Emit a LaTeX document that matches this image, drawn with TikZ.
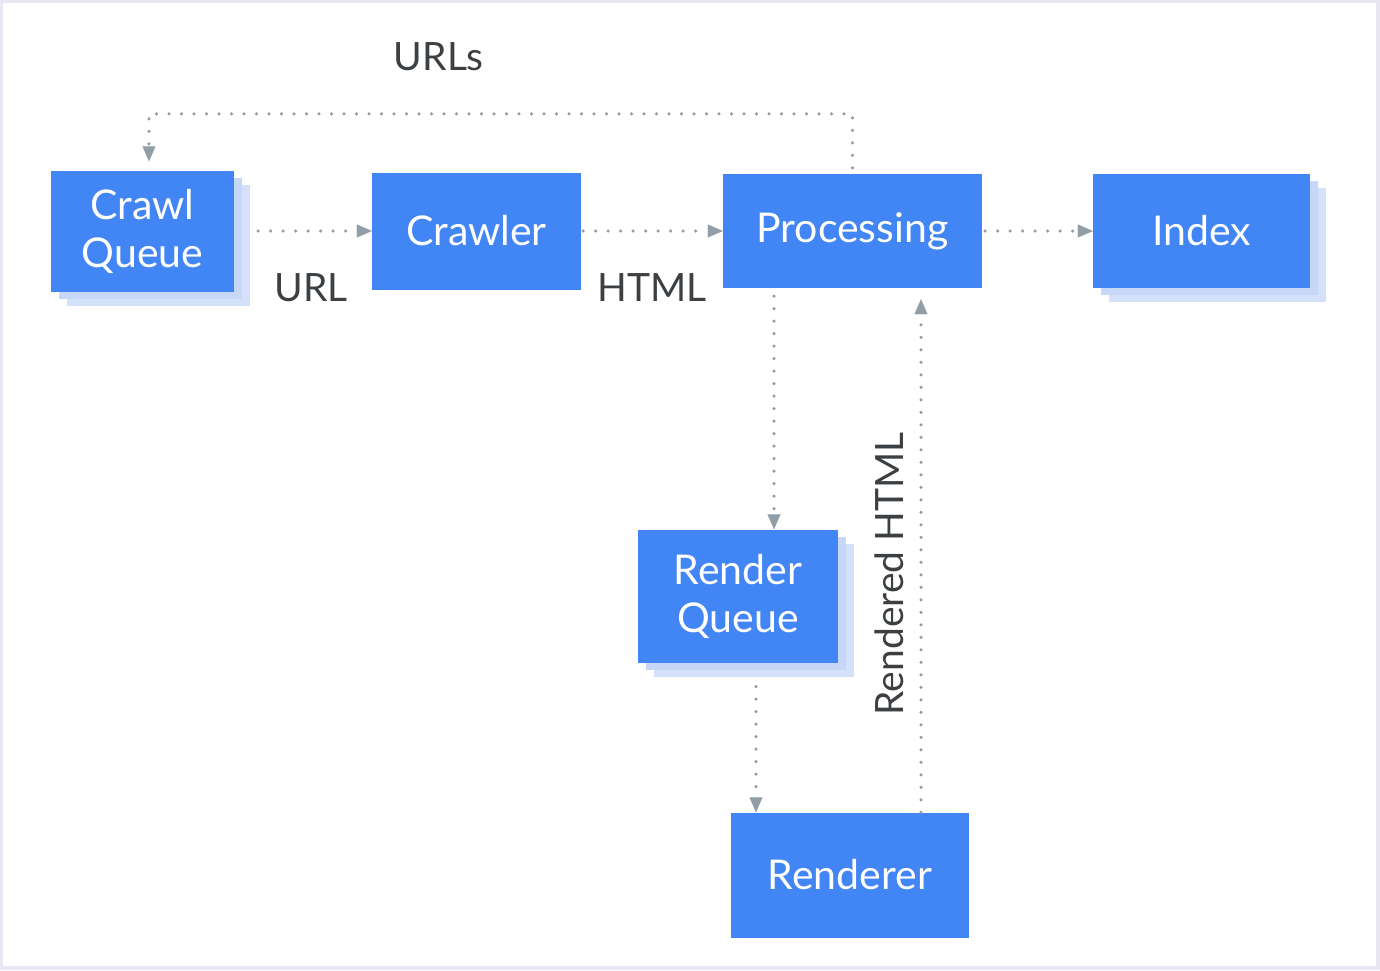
\documentclass[tikz,border=0pt]{standalone}
\usepackage{fontspec}
\setmainfont{Lato}
\usetikzlibrary{arrows.meta,positioning,shadows}
\definecolor{boxblue}{HTML}{4285F4}
\definecolor{layernear}{HTML}{C6D7F8}
\definecolor{layerfar}{HTML}{D4E1FA}
\definecolor{dotgray}{HTML}{919EA6}
\definecolor{labelgray}{HTML}{3C4043}
\definecolor{framelav}{HTML}{E7E6F2}

\begin{document}
\begin{tikzpicture}[>={Triangle[width=13pt,length=15pt,line width=0.01pt]},on grid,
    box/.style={rectangle,fill=boxblue,text=white,inner sep=0pt,align=center,
      font=\fontsize{41}{48}\selectfont},
    queue/.style={box,general shadow={shadow xshift=16pt,shadow yshift=-14pt,fill=layerfar},
      general shadow={shadow xshift=8pt,shadow yshift=-7pt,fill=layernear}},
    flow/.style={->,draw=dotgray,line width=3.5pt,line cap=round,dash pattern=on 0pt off 12.5pt},
    tag/.style={text=labelgray,inner sep=0pt,font=\fontsize{39}{48}\selectfont}]
    \useasboundingbox (0,0) rectangle (1380pt,-970pt);
    \fill[framelav] (0,0) rectangle (1380pt,-970pt);
    \fill[white] (3pt,-3pt) rectangle (1376pt,-966pt);
    \node[queue,minimum width=183pt,minimum height=121pt] (cq) at (142.5pt,-231pt) {Crawl\\Queue};
    \node[box,minimum width=209pt,minimum height=117pt] (crawler) [right=334pt of cq] {Crawler};
    \node[box,minimum width=259pt,minimum height=114pt] (proc) [right=376pt of crawler] {Processing};
    \node[queue,minimum width=217pt,minimum height=114pt] (idx) [right=349pt of proc] {Index};
    \node[queue,minimum width=200pt,minimum height=133pt] (rq) [below left=365pt and 114.5pt of proc] {Render\\Queue};
    \node[box,minimum width=238pt,minimum height=125pt] (rend) [below left=644pt and 2.5pt of proc] {Renderer};
    \draw[flow,shorten <=24pt] (cq.east) -- node[tag,below=41pt,pos=.56] {URL} (crawler.west);
    \draw[flow,shorten <=2pt] (crawler.east) -- node[tag,below=41pt] {HTML} (proc.west);
    \draw[flow,shorten <=3pt] (proc.east) -- (idx.west);
    \draw[flow,shorten <=8pt] ([xshift=36pt]rq.north |- proc.south) -- ([xshift=36pt]rq.north);
    \draw[flow,shorten <=24pt] ([xshift=18pt]rq.south) -- ([xshift=18pt]rq.south |- rend.north);
    \draw[flow,shorten >=11pt] ([xshift=71pt]rend.north) -- node[tag,sloped,above,inner ysep=15pt,pos=.455] {Rendered HTML} ([xshift=71pt]rend.north |- proc.south);
    \draw[flow,shorten <=6pt,shorten >=9pt] (proc.north) -- ++(0,60pt) -| node[tag,above=41pt,pos=.294] {URLs} ([xshift=6.5pt]cq.north);
\end{tikzpicture}
\end{document}
